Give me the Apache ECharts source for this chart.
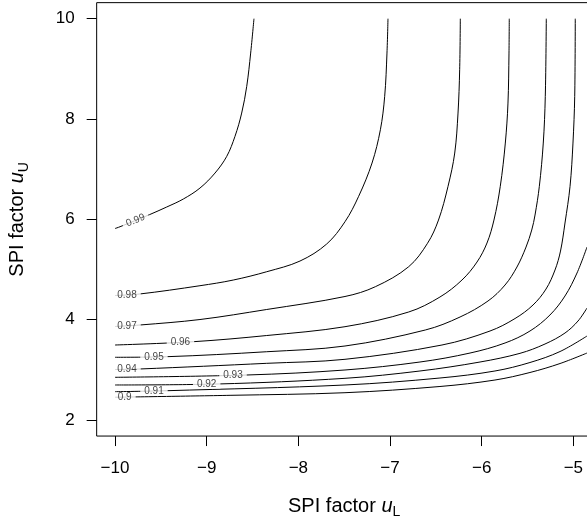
<!DOCTYPE html>
<html>
<head>
<meta charset="utf-8">
<script src="https://cdn.jsdelivr.net/npm/echarts@6/dist/echarts.min.js"></script>
<style>
html, body { margin: 0; padding: 0; background: #fff; }
#chart { width: 587px; height: 521px; }
</style>
</head>
<body>
<div id="chart"></div>
<script>
// Contour levels of the index over the (u_L, u_U) plane
const levels = [0.90, 0.91, 0.92, 0.93, 0.94, 0.95, 0.96, 0.97, 0.98, 0.99];

// Each contour as [u_L, u_U] points
const c090 = [[-10, 2.454], [-8.745, 2.492], [-7.491, 2.544], [-6.455, 2.668], [-5.855, 2.797], [-5.473, 2.947], [-5.145, 3.126], [-4.851, 3.335]];
const c091 = [[-10, 2.564], [-9.436, 2.584], [-7.491, 2.698], [-6.455, 2.837], [-5.855, 2.977], [-5.473, 3.146], [-5.145, 3.365], [-4.851, 3.674]];
const c092 = [[-10, 2.698], [-8.876, 2.718], [-7.491, 2.831], [-6.673, 2.977], [-6.018, 3.156], [-5.582, 3.329], [-5.309, 3.515], [-5.091, 3.734], [-4.949, 3.973], [-4.851, 4.232]];
const c093 = [[-10, 2.851], [-8.563, 2.897], [-7.491, 2.997], [-6.673, 3.156], [-6.127, 3.335], [-5.745, 3.535], [-5.473, 3.774], [-5.255, 4.093], [-5.091, 4.472], [-4.960, 4.930], [-4.851, 5.448]];
const c094 = [[-10, 3.007], [-9.727, 3.017], [-8.345, 3.130], [-7.491, 3.210], [-6.433, 3.495], [-5.909, 3.774], [-5.636, 4.023], [-5.440, 4.292], [-5.298, 4.611], [-5.200, 4.990], [-5.140, 5.368], [-5.091, 5.927], [-5.036, 6.658], [-5.004, 7.521], [-4.985, 8.452], [-4.979, 10]];
const c095 = [[-10, 3.250], [-9.436, 3.262], [-8.345, 3.361], [-7.491, 3.475], [-6.615, 3.794], [-6.236, 4.053], [-5.931, 4.372], [-5.745, 4.691], [-5.615, 5.050], [-5.516, 5.448], [-5.454, 5.787], [-5.418, 6.086], [-5.371, 6.658], [-5.328, 7.521], [-5.306, 8.452], [-5.295, 10]];
const c096 = [[-10, 3.495], [-9.146, 3.561], [-8.345, 3.684], [-7.491, 3.860], [-6.796, 4.153], [-6.455, 4.452], [-6.215, 4.790], [-6.051, 5.149], [-5.942, 5.528], [-5.866, 5.986], [-5.797, 6.658], [-5.742, 7.521], [-5.713, 8.318], [-5.702, 9.315], [-5.699, 10]];
const c097 = [[-10, 3.864], [-9.727, 3.894], [-9.073, 4.003], [-8.345, 4.203], [-7.491, 4.462], [-7.160, 4.657], [-6.796, 5.056], [-6.591, 5.522], [-6.471, 5.986], [-6.367, 6.658], [-6.294, 7.322], [-6.258, 8.119], [-6.240, 8.982], [-6.233, 10]];
const c098 = [[-10, 4.482], [-9.735, 4.511], [-9.073, 4.677], [-8.710, 4.790], [-8.345, 4.956], [-7.982, 5.169], [-7.691, 5.508], [-7.491, 5.953], [-7.342, 6.459], [-7.196, 7.123], [-7.105, 7.786], [-7.058, 8.452], [-7.033, 9.315], [-7.022, 10]];
const c099 = [[-10, 5.817], [-9.945, 5.853], [-9.626, 6.092], [-9.436, 6.246], [-9.255, 6.405], [-9.073, 6.624], [-8.909, 6.923], [-8.781, 7.256], [-8.691, 7.655], [-8.618, 8.119], [-8.563, 8.651], [-8.520, 9.315], [-8.484, 10]];

const contours = [c090, c091, c092, c093, c094, c095, c096, c097, c098, c099];

// u_L at which each contour carries its level label
const labelAt = [-9.894, -9.575, -9.0, -8.713, -9.869, -9.575, -9.286, -9.869, -9.869, -9.776];

// Axis ticks
const xTicks = [-10, -9, -8, -7, -6, -5];
const yTicks = [2, 4, 6, 8, 10];

const FONT = 'Liberation Sans, Arial, Helvetica, sans-serif';

// u_U on a contour at a given u_L (linear between points)
function yOnCurve(pts, x) {
  for (let i = 0; i < pts.length - 1; i++) {
    const a = pts[i], b = pts[i + 1];
    if (x >= a[0] && x <= b[0]) {
      const t = (x - a[0]) / (b[0] - a[0]);
      return a[1] + t * (b[1] - a[1]);
    }
  }
  return pts[0][1];
}

const minus = v => (v < 0 ? '\u2212' + Math.abs(v) : String(v));

const lineSeries = contours.map((pts, i) => ({
  type: 'line',
  name: String(levels[i]),
  data: pts,
  showSymbol: false,
  smooth: 0.35,
  lineStyle: { color: '#000', width: 1 },
  silent: true,
  z: 2
}));

const labelSeries = {
  type: 'scatter',
  silent: true,
  z: 5,
  symbolSize: 1,
  itemStyle: { color: 'rgba(0,0,0,0)' },
  data: contours.map((pts, i) => ({
    value: [labelAt[i], yOnCurve(pts, labelAt[i])],
    label: {
      show: true,
      position: 'inside',
      formatter: String(levels[i]),
      rotate: levels[i] === 0.99 ? 22 : 0
    }
  })),
  label: {
    fontFamily: FONT,
    fontSize: 10,
    color: '#111',
    backgroundColor: '#fff',
    padding: [0, 4],
    lineHeight: 9
  }
};

// Axis titles: italic u with a lowered subscript
const titleRich = {
  a: { fontFamily: FONT, fontSize: 20, color: '#000', lineHeight: 20, verticalAlign: 'bottom', padding: [0, 0, 3, 0] },
  i: { fontFamily: FONT, fontSize: 20, color: '#000', fontStyle: 'italic', lineHeight: 20, verticalAlign: 'bottom', padding: [0, 0, 3, 0] },
  s: { fontFamily: FONT, fontSize: 14, color: '#000', lineHeight: 14, verticalAlign: 'bottom' }
};

const chart = echarts.init(document.getElementById('chart'), null, { renderer: 'canvas' });
chart.setOption({
  animation: false,
  backgroundColor: '#fff',
  grid: {
    left: 96.67, top: 2.65, width: 495, height: 433.4,
    containLabel: false,
    outerBoundsMode: 'none',
    show: true, borderColor: '#000', borderWidth: 1, backgroundColor: 'transparent'
  },
  xAxis: {
    type: 'value',
    min: -10.2, max: -4.8,
    axisLine: { show: false },
    splitLine: { show: false },
    axisTick: { show: true, inside: false, length: 10, customValues: xTicks, lineStyle: { color: '#000', width: 1 } },
    axisLabel: { customValues: xTicks, formatter: minus, margin: 24, fontFamily: FONT, fontSize: 17, color: '#000' },
    name: '{a|SPI factor }{i|u}{s|L}',
    nameLocation: 'middle',
    nameGap: 63,
    nameTextStyle: { rich: titleRich }
  },
  yAxis: {
    type: 'value',
    min: 1.68, max: 10.32,
    axisLine: { show: false },
    splitLine: { show: false },
    axisTick: { show: true, inside: false, length: 10, customValues: yTicks, lineStyle: { color: '#000', width: 1 } },
    axisLabel: { customValues: yTicks, margin: 22, fontFamily: FONT, fontSize: 17, color: '#000' },
    name: '{a|SPI factor }{i|u}{s|U}',
    nameLocation: 'middle',
    nameGap: 66,
    nameTextStyle: { rich: titleRich }
  },
  series: [...lineSeries, labelSeries]
});
</script>
</body>
</html>
